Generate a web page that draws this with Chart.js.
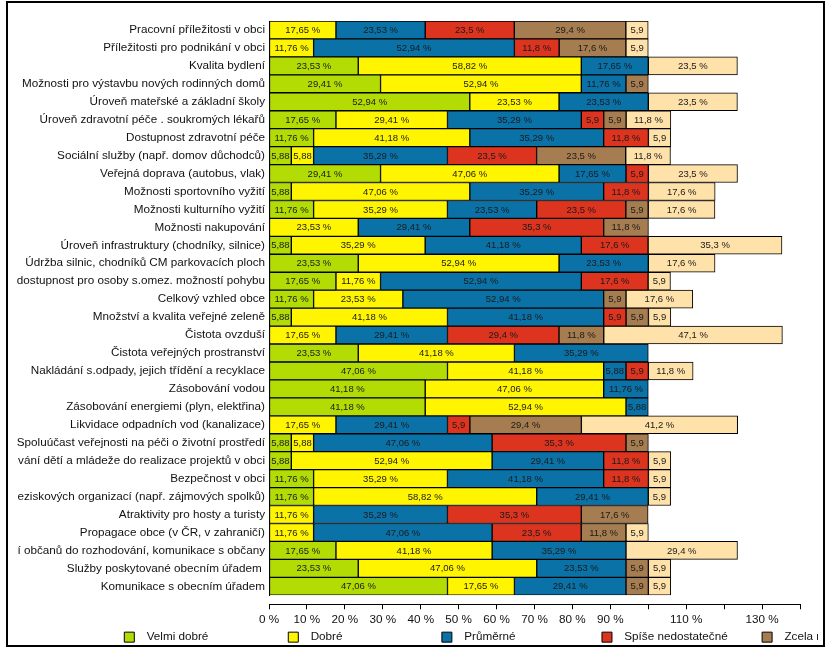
<!DOCTYPE html>
<html><head><meta charset="utf-8">
<script src="https://cdn.jsdelivr.net/npm/chart.js@4.4.0/dist/chart.umd.min.js"></script>
<style>
html,body{margin:0;padding:0;background:#fff;overflow:hidden;width:833px;height:649px;}
#frame{position:absolute;left:6px;top:1px;width:819px;height:646px;box-sizing:border-box;border:2px solid #000;}
#clip{position:absolute;left:0;top:0;width:818px;height:649px;overflow:hidden;}
#wrap{position:absolute;left:0;top:0;width:1202px;height:653px;}
</style></head><body>
<div id="frame"></div>
<div id="clip"><div id="wrap"><canvas id="c"></canvas></div></div>
<script>
const categories = [
  "Pracovní příležitosti v obci",
  "Příležitosti pro podnikání v obci",
  "Kvalita bydlení",
  "Možnosti pro výstavbu nových rodinných domů",
  "Úroveň mateřské a základní školy",
  "Úroveň zdravotní péče . soukromých lékařů",
  "Dostupnost zdravotní péče",
  "Sociální služby (např. domov důchodců)",
  "Veřejná doprava (autobus, vlak)",
  "Možnosti sportovního vyžití",
  "Možnosti kulturního vyžití",
  "Možnosti nakupování",
  "Úroveň infrastruktury (chodníky, silnice)",
  "Údržba silnic, chodníků CM parkovacích ploch",
  "dostupnost pro osoby s.omez. možností pohybu",
  "Celkový vzhled obce",
  "Množství a kvalita veřejné zeleně",
  "Čistota ovzduší",
  "Čistota veřejných prostranství",
  "Nakládání s.odpady, jejich třídění a recyklace",
  "Zásobování vodou",
  "Zásobování energiemi (plyn, elektřina)",
  "Likvidace odpadních vod (kanalizace)",
  "Spoluúčast veřejnosti na péči o životní prostředí",
  "vání dětí a mládeže do realizace projektů v obci",
  "Bezpečnost v obci",
  "eziskových organizací (např. zájmových spolků)",
  "Atraktivity pro hosty a turisty",
  "Propagace obce (v ČR, v zahraničí)",
  "í občanů do rozhodování, komunikace s občany",
  "Služby poskytované obecním úřadem ",
  "Komunikace s obecním úřadem"
];
const seriesNames = ["Velmi dobré", "Dobré", "Průměrné", "Spíše nedostatečné", "Zcela nedostatečné", "Nevím"];
const velmiDobre = [null, null, 23.53, 29.41, 52.94, 17.65, 11.76, 5.88, 29.41, 5.88, 11.76, null, 5.88, 23.53, 17.65, 11.76, 5.88, null, 23.53, 47.06, 41.18, 41.18, null, 5.88, 5.88, 11.76, 11.76, null, null, 17.65, 23.53, 47.06];
const dobre = [17.65, 11.76, 58.82, 52.94, 23.53, 29.41, 41.18, 5.88, 47.06, 47.06, 35.29, 23.53, 35.29, 52.94, 11.76, 23.53, 41.18, 17.65, 41.18, 41.18, 47.06, 52.94, 17.65, 5.88, 52.94, 35.29, 58.82, 11.76, 11.76, 41.18, 47.06, 17.65];
const prumerne = [23.53, 52.94, 17.65, 11.76, 23.53, 35.29, 35.29, 35.29, 17.65, 35.29, 23.53, 29.41, 41.18, 23.53, 52.94, 52.94, 41.18, 29.41, 35.29, 5.88, 11.76, 5.88, 29.41, 47.06, 29.41, 41.18, 29.41, 35.29, 47.06, 35.29, 23.53, 29.41];
const spiseNedostatecne = [23.5, 11.8, null, null, null, 5.9, 11.8, 23.5, 5.9, 11.8, 23.5, 35.3, 17.6, null, 17.6, null, 5.9, 29.4, null, 5.9, null, null, 5.9, 35.3, 11.8, 11.8, null, 35.3, 23.5, null, null, null];
const zcelaNedostatecne = [29.4, 17.6, null, 5.9, null, 5.9, null, 23.5, null, null, 5.9, 11.8, null, null, null, 5.9, 5.9, 11.8, null, null, null, null, 29.4, 5.9, null, null, null, 17.6, 11.8, null, 5.9, 5.9];
const nevim = [5.9, 5.9, 23.5, null, 23.5, 11.8, 5.9, 11.8, 23.5, 17.6, 17.6, null, 35.3, 17.6, 5.9, 17.6, 5.9, 47.1, null, 11.8, null, null, 41.2, null, 5.9, 5.9, 5.9, null, 5.9, 29.4, 5.9, 5.9];
const xTickLabels = ["0 %", "10 %", "20 %", "30 %", "40 %", "50 %", "60 %", "70 %", "80 %", "90 %", "", "110 %", "", "130 %", ""];

const seriesValues = [velmiDobre, dobre, prumerne, spiseNedostatecne, zcelaNedostatecne, nevim];
const colors = ["#b2dc04", "#fff500", "#0b72a8", "#dd3420", "#a67d50", "#ffe1aa"];
const decimals = [2, 2, 2, 1, 1, 1];
const FONT = '"Liberation Sans", Arial, sans-serif';
const FS = 11.7;
const legendSteps = [163, 153, 159, 161, 160, 160];
const LEG_PAD = 2;
const CANVAS_W = 1202;

const valueLabels = {
  id: 'valueLabels',
  afterDatasetsDraw(chart) {
    const ctx = chart.ctx;
    ctx.save();
    ctx.font = '9.5px ' + FONT;
    ctx.fillStyle = '#1a1a1a';
    ctx.textAlign = 'center';
    ctx.textBaseline = 'middle';
    chart.data.datasets.forEach((ds, di) => {
      const meta = chart.getDatasetMeta(di);
      meta.data.forEach((el, i) => {
        const v = ds.data[i];
        if (v == null) return;
        const p = el.getProps(['x', 'y', 'base'], true);
        let s = v.toFixed(decimals[di]).replace('.', ',');
        if (v >= 10) s += ' %';
        ctx.fillText(s, (p.x + p.base) / 2, p.y + 0.5);
      });
    });
    ctx.restore();
  }
};

new Chart(document.getElementById('c'), {
  type: 'bar',
  data: {
    labels: categories,
    datasets: seriesValues.map((vals, i) => ({
      label: seriesNames[i],
      data: vals,
      backgroundColor: colors[i],
      borderColor: '#000',
      borderWidth: 1,
      borderSkipped: false,
      barPercentage: 1,
      categoryPercentage: 1
    }))
  },
  options: {
    indexAxis: 'y',
    responsive: true,
    maintainAspectRatio: false,
    animation: false,
    layout: { padding: { top: 21, left: 0, right: 0, bottom: 0 } },
    scales: {
      x: {
        type: 'linear', stacked: true, min: 0, max: 140,
        grid: { drawOnChartArea: false, drawTicks: true, tickLength: 5, color: '#000' },
        border: { display: true, color: '#000', width: 1 },
        ticks: {
          stepSize: 10, padding: 3, color: '#111', font: { family: FONT, size: FS },
          autoSkip: false, maxRotation: 0,
          callback: (v, idx) => xTickLabels[idx]
        }
      },
      gap: {
        type: 'linear', axis: 'x', position: 'bottom', weight: -1, display: true,
        grid: { display: false, drawTicks: false }, border: { display: false },
        ticks: { display: false },
        afterFit: (s) => { s.height = 9; }
      },
      y: {
        type: 'category', stacked: true, offset: true,
        grid: { display: false, drawTicks: false },
        border: { display: true, color: '#000', width: 1 },
        ticks: { autoSkip: false, padding: 4, color: '#111', font: { family: FONT, size: FS } },
        afterFit: (s) => { s.width = 269; }
      },
      pad: {
        type: 'linear', axis: 'y', position: 'right', display: true,
        grid: { display: false, drawTicks: false }, border: { display: false },
        ticks: { display: false },
        afterFit: (s) => { s.width = CANVAS_W - 800; }
      }
    },
    plugins: {
      tooltip: { enabled: false },
      legend: {
        position: 'bottom',
        align: 'center',
        labels: {
          boxWidth: 10, boxHeight: 10, padding: LEG_PAD, color: '#111',
          font: { family: FONT, size: FS },
          generateLabels(chart) {
            const items = Chart.defaults.plugins.legend.labels.generateLabels(chart);
            const ctx = chart.ctx;
            ctx.save();
            ctx.font = FS + 'px ' + FONT;
            items.forEach((it, i) => {
              let t = '  ' + it.text;
              const target = legendSteps[i] - 10 - FS / 2 - LEG_PAD;
              while (ctx.measureText(t + ' ').width <= target + 1.6) t += ' ';
              it.text = t;
            });
            ctx.restore();
            return items;
          }
        }
      }
    }
  },
  plugins: [valueLabels]
});
</script>
</body></html>
